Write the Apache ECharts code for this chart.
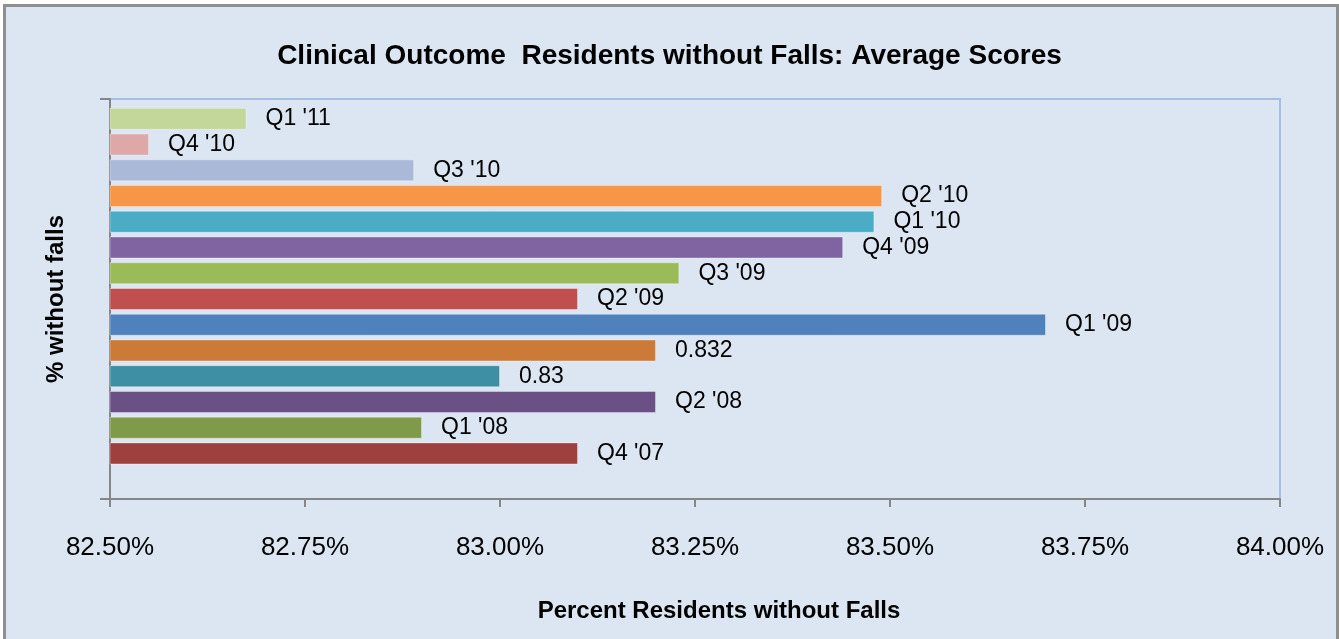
<!DOCTYPE html>
<html lang="en">
<head>
<meta charset="utf-8">
<title>Residents without Falls</title>
<script src="https://cdn.jsdelivr.net/npm/echarts@6/dist/echarts.min.js"></script>
<style>
  html, body { margin: 0; padding: 0; background: #fff; overflow: hidden; }
  #frame { position: absolute; left: 3px; top: 4px; width: 1330px; height: 700px;
           border: 3px solid #8f8f8f; background: #dce6f2; }
  #main { position: absolute; left: 0; top: 0; width: 1339px; height: 639px; }
</style>
</head>
<body>
<div id="frame"></div>
<div id="main"></div>
<script type="text/javascript">
  // bars listed top to bottom, the last slot is empty (as in the source chart)
  var seriesNames = ["Q1 '11", "Q4 '10", "Q3 '10", "Q2 '10", "Q1 '10", "Q4 '09", "Q3 '09",
                     "Q2 '09", "Q1 '09", "0.832", "0.83", "Q2 '08", "Q1 '08", "Q4 '07", ""];
  var percentValues = [82.675, 82.55, 82.89, 83.49, 83.48, 83.44, 83.23,
                       83.10, 83.70, 83.20, 83.00, 83.20, 82.90, 83.10, null];
  var barColors = ['#c4d79b', '#dda8a7', '#aab9d7', '#f79646', '#4bacc6', '#8064a2', '#9bbb59',
                   '#c0504d', '#4f81bd', '#cc7a37', '#3e8fa4', '#6a5084', '#7f9a48', '#9e403e', '#cccccc'];
  var categories = [''];
  var tickMin = 82.5, tickMax = 84.0, tickStep = 0.25;

  var narrow = "'Liberation Sans Narrow', 'Arial Narrow', 'Liberation Sans', sans-serif";

  var myChart = echarts.init(document.getElementById('main'));

  var series = [];
  for (var i = 0; i < seriesNames.length; i++) {
    series.push({
      name: seriesNames[i],
      type: 'bar',
      data: [percentValues[i]],
      barWidth: 22,
      barGap: '17%',
      itemStyle: { color: barColors[i], borderColor: 'rgba(255,255,255,0.35)', borderWidth: 1 },
      label: {
        show: percentValues[i] != null,
        position: 'right',
        distance: 19,
        formatter: '{a}',
        color: '#000',
        fontFamily: narrow,
        fontSize: 23
      },
      animation: false
    });
  }

  var option = {
    animation: false,
    title: {
      text: 'Clinical Outcome  Residents without Falls: Average Scores',
      left: 'center',
      top: 37,
      textStyle: { fontFamily: narrow, fontSize: 28, fontWeight: 'bold', color: '#000' }
    },
    grid: {
      left: 110, right: 59, top: 99, bottom: 140,
      show: true, backgroundColor: 'transparent',
      borderColor: '#a4bfe3', borderWidth: 2
    },
    xAxis: {
      type: 'value',
      min: tickMin, max: tickMax, interval: tickStep,
      name: 'Percent Residents without Falls',
      nameLocation: 'middle',
      nameGap: 100,
      nameTextStyle: { fontFamily: narrow, fontSize: 24, fontWeight: 'bold', color: '#000', padding: [0, 0, 0, 48] },
      axisLine: { show: true, lineStyle: { color: '#868686', width: 2 } },
      axisTick: { show: true, length: 8, lineStyle: { color: '#868686', width: 2 } },
      splitLine: { show: false },
      axisLabel: {
        margin: 36,
        fontFamily: narrow, fontSize: 26, color: '#000',
        formatter: function (v) { return v.toFixed(2) + '%'; }
      }
    },
    yAxis: {
      type: 'category',
      data: categories,
      name: '% without falls',
      nameLocation: 'middle',
      nameGap: 42,
      nameTextStyle: { fontFamily: narrow, fontSize: 24, fontWeight: 'bold', color: '#000' },
      axisLine: { show: true, lineStyle: { color: '#868686', width: 2 } },
      axisTick: { show: true, length: 10, lineStyle: { color: '#868686', width: 2 } },
      axisLabel: { show: false }
    },
    series: series
  };

  myChart.setOption(option);
</script>
</body>
</html>
